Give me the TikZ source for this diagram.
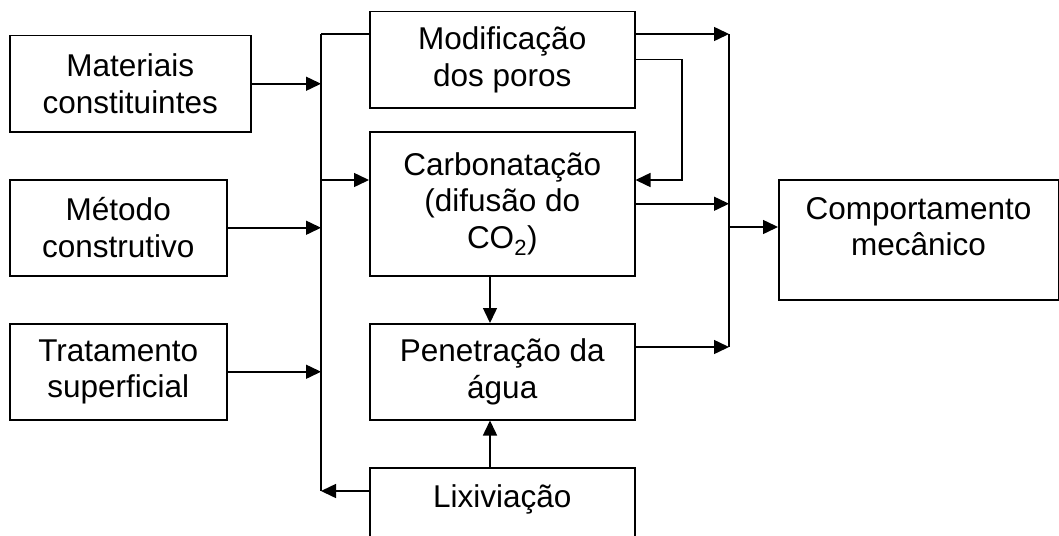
\documentclass[tikz,border=0pt]{standalone}
\usepackage{fontspec}
\setmainfont{Liberation Sans}
\usetikzlibrary{positioning, calc, arrows.meta}

\begin{document}
\begin{tikzpicture}[x=1pt, y=-1pt, line width=1.5pt,
>={Triangle[length=15pt,width=14pt]},
item/.style={rectangle,draw,align=center,anchor=north west,inner sep=0pt,
font=\fontsize{31.5}{36.5}\selectfont},
itemw/.style={item,minimum width=265pt}]

\useasboundingbox (0,0) rectangle (1059,535);

%factors
\path
	node[item, minimum width=241pt, minimum height=96pt] (m1) at (9,35) {Materiais\\constituintes}
	node[item, minimum width=217pt, minimum height=96pt] (m2) at (9,179) {Método\\construtivo}
	node[item, minimum width=217pt, minimum height=96pt] (m3) at (9,323) {Tratamento\\superficial};

%mechanisms
\path
	node[itemw, minimum height=96pt] (p1) at (369,11) {Modificação\\dos poros}
	node[itemw, minimum height=144pt] (p2) at (369,131) {Carbonatação\\(difusão do\\CO\textsubscript{2})}
	node[itemw, minimum height=96pt] (p3) at (369,323) {Penetração da\\água}
	node[itemw, text height=40pt, text depth=70pt] (p4) at (369,467) {Lixiviação};

%result
\node[item, minimum width=279.5pt, text height=76pt, text depth=44pt] (cm) at (778,179) {Comportamento\\mecânico};

\coordinate (b1) at (321,34);
\coordinate (b2) at (321,491);
\coordinate (j1) at (321,180);
\coordinate (r1) at (729,34);
\coordinate (r2) at (729,347);
\coordinate (r3) at (729,227);
\coordinate (k1) at (682,180);
\coordinate (v1) at (490,0);

%buses
\draw (b1) -- (b2);
\draw (r1) -- (r2);

\foreach \T in {1,2,3}
{\draw[->] (m\T.east) -- (m\T.east -| b1); }

\draw (b1) -- (b1 -| p1.west);
\draw[->] (j1) -- (j1 -| p2.west);
\draw[->] (b2 -| p4.west) -- (b2);

\draw[->] (r1 -| p1.east) -- (r1);
\draw[->] (p1.east) -| (k1) -- (k1 -| p2.east);
\draw[->] (p2.east) -- (p2.east -| r1);
\draw[->] (r2 -| p3.east) -- (r2);
\draw[->] (r3) -- (r3 -| cm.west);

\draw[->] (v1 |- p2.south) -- (v1 |- p3.north);
\draw[->] (v1 |- p4.north) -- (v1 |- p3.south);
\end{tikzpicture}
\end{document}
